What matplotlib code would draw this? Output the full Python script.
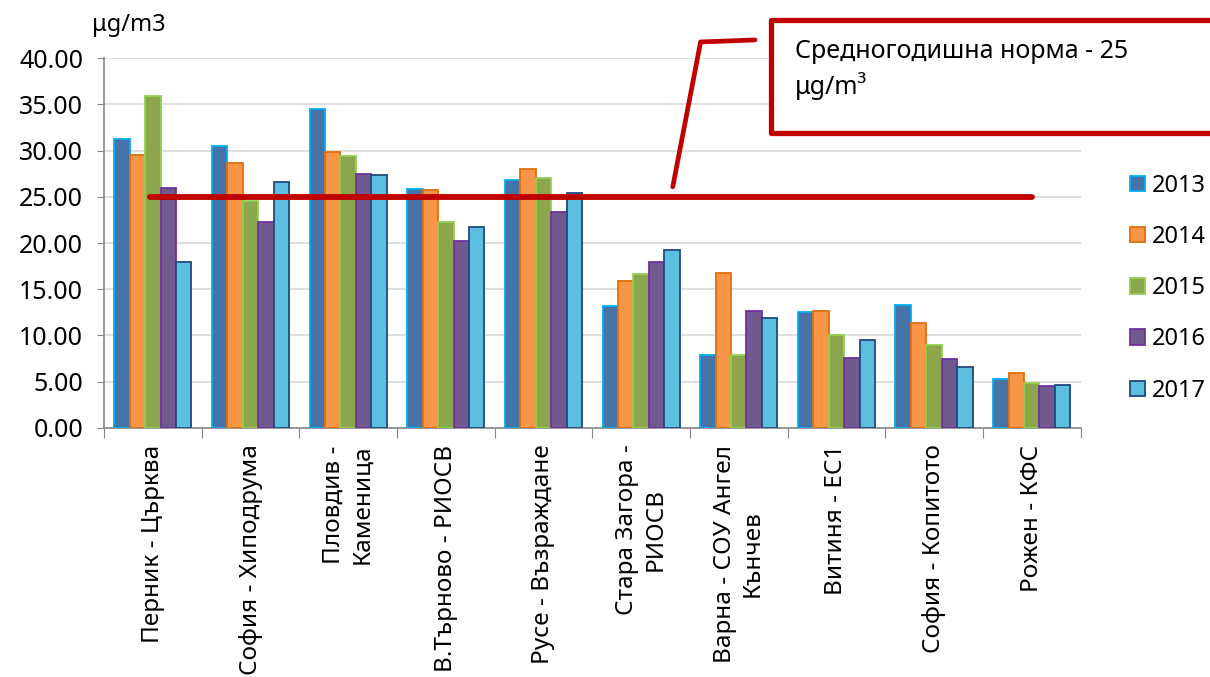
import matplotlib.pyplot as plt
import numpy as np
from matplotlib.patches import Rectangle
from matplotlib.lines import Line2D

plt.rcParams['font.family'] = ['Noto Sans', 'DejaVu Sans']

stations = ["Перник - Църква", "София - Хиподрума", "Пловдив -\nКаменица",
            "В.Търново - РИОСВ", "Русе - Възраждане", "Стара Загора -\nРИОСВ",
            "Варна - СОУ Ангел\nКънчев", "Витиня - ЕС1", "София - Копитото",
            "Рожен - КФС"]
years = ["2013", "2014", "2015", "2016", "2017"]

v2013 = [31.3, 30.5, 34.5, 25.9, 26.8, 13.2, 7.9, 12.5, 13.3, 5.3]
v2014 = [29.5, 28.7, 29.8, 25.7, 28.0, 15.9, 16.8, 12.6, 11.4, 5.9]
v2015 = [35.9, 24.6, 29.4, 22.3, 27.0, 16.7, 7.9, 10.0, 9.0, 4.9]
v2016 = [26.0, 22.3, 27.5, 20.2, 23.4, 18.0, 12.7, 7.6, 7.4, 4.5]
v2017 = [17.9, 26.6, 27.4, 21.7, 25.4, 19.3, 11.9, 9.5, 6.6, 4.6]
norm = 25

series = [v2013, v2014, v2015, v2016, v2017]
fills = ['#4673A8', '#F79646', '#8BA64C', '#71588F', '#5DBFE0']
edges = ['#00B0F0', '#E46C0A', '#92D050', '#7030A0', '#1F497D']

fig = plt.figure(figsize=(12.1, 6.77), dpi=100)
ax = fig.add_axes([0.086, 0.368, 0.807, 0.546])

x = np.arange(len(stations))
w = 0.158
for i, (vals, fc, ec, lab) in enumerate(zip(series, fills, edges, years)):
    ax.bar(x + (i - 2) * w, vals, width=w, color=fc, edgecolor=ec,
           linewidth=1.3, label=lab, zorder=3)

ax.plot([-0.03, 9.0], [norm, norm], color='#C00000', linewidth=4.2,
        solid_capstyle='round', zorder=4)

ax.set_xlim(-0.5, 9.5)
ax.set_ylim(0, 40)
ax.set_yticks(np.arange(0, 41, 5))
ax.set_yticklabels([f"{t:.2f}" for t in np.arange(0, 41, 5)], fontsize=18)
ax.yaxis.grid(True, color='#D9D9D9', linewidth=1.2, zorder=0)
ax.set_axisbelow(True)

ax.set_xticks(np.arange(-0.5, 10, 1))
ax.set_xticklabels([])
ax.set_xticks(x, minor=True)
ax.set_xticklabels(stations, minor=True, rotation=90, fontsize=17.5,
                   va='top', ha='center', multialignment='center',
                   linespacing=1.25)
ax.tick_params(axis='x', which='minor', length=0, pad=12)
ax.tick_params(axis='x', which='major', length=7, color='#868686')
ax.tick_params(axis='y', length=5, color='#868686', pad=10)

for s in ['top', 'right']:
    ax.spines[s].set_visible(False)
for s in ['left', 'bottom']:
    ax.spines[s].set_color('#868686')
    ax.spines[s].set_linewidth(1.2)

fig.text(0.076, 0.945, "μg/m3", fontsize=17, va='bottom', ha='left')

ax.legend(loc='upper left', bbox_to_anchor=(0.926, 0.757),
          bbox_transform=fig.transFigure, frameon=False, fontsize=17,
          handlelength=0.62, handleheight=0.62, handletextpad=0.3,
          labelspacing=1.15, borderaxespad=0)

# callout box
fig.patches.append(Rectangle((0.637, 0.804), 0.42, 0.166, transform=fig.transFigure,
                             facecolor='white', edgecolor='#C00000', linewidth=3.8,
                             joinstyle='round', zorder=5))
fig.text(0.657, 0.942, "Средногодишна норма - 25\nμg/m³", fontsize=18,
         va='top', ha='left', linespacing=1.35, zorder=6)
fig.lines.append(Line2D([0.624, 0.579, 0.556], [0.941, 0.938, 0.724],
                        transform=fig.transFigure, color='#C00000', linewidth=3.4,
                        solid_capstyle='round', solid_joinstyle='round'))

fig.savefig('out.png', dpi=100)
